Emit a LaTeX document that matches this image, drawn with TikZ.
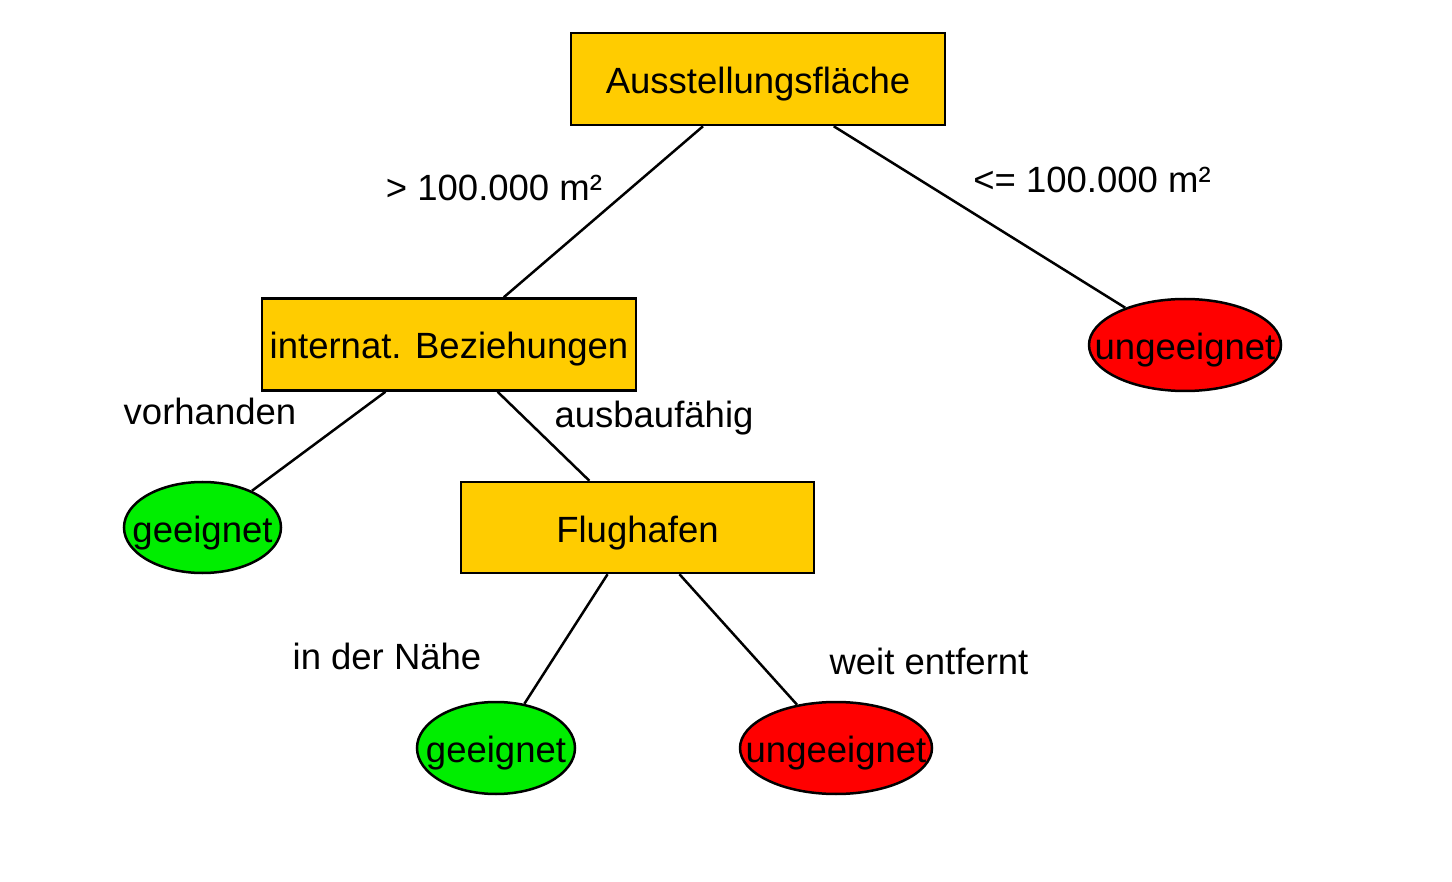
\documentclass[tikz,border=0pt]{standalone}
\usepackage{fontspec}
\setmainfont{Liberation Sans}
\usetikzlibrary{shapes.geometric}
\definecolor{boxyellow}{RGB}{255,204,0}
\definecolor{leafred}{RGB}{255,0,0}
\definecolor{leafgreen}{RGB}{0,238,0}
\tikzset{
  every node/.style={font=\fontsize{36.5}{44}\selectfont, inner sep=0pt},
  shaped/.style={draw=black, line width=2.5pt, text height=29pt, text depth=0pt},
  decision/.style={shaped, fill=boxyellow, rectangle, minimum width=374pt, minimum height=92pt},
  good/.style={shaped, fill=leafgreen, ellipse, minimum width=157pt, minimum height=91pt},
  bad/.style={shaped, fill=leafred, ellipse, minimum width=192pt, minimum height=92pt},
  edge/.style={draw=black, line width=2.5pt},
  elabel/.style={anchor=center}
}
\newcommand{\zw}[1]{\makebox[0pt]{#1}}
\begin{document}
\begin{tikzpicture}[x=1pt,y=-1pt]
\useasboundingbox (0,0) rectangle (1452,882);
\node[decision] (root) at (758,79) {Ausstellungsfläche};
\node[decision] (intl) at (449,344.5) {internat. Beziehungen};
\node[decision, minimum width=353pt, minimum height=91pt] (flug) at (637.5,527.5) {Flughafen};
\node[bad] (bad1) at (1185,345) {\zw{ungeeignet}};
\node[good] (good1) at (202.5,527.5) {\zw{geeignet}};
\node[good, minimum width=158pt, minimum height=92pt] (good2) at (496,748) {\zw{geeignet}};
\node[bad] (bad2) at (836,748) {\zw{ungeeignet}};
\draw[edge] (root) -- (intl);
\draw[edge] (root) -- (bad1);
\draw[edge] (intl) -- (good1);
\draw[edge] (intl) -- (flug);
\draw[edge] (flug) -- (good2);
\draw[edge] (flug) -- (bad2);
\node[elabel] (l1) at (494,188) {> 100.000 m²};
\node[elabel] (l2) at (1092,180) {<= 100.000 m²};
\node[elabel] (l3) at (210,411) {vorhanden};
\node[elabel] (l4) at (654,418) {ausbaufähig};
\node[elabel] (l5) at (387,656) {in der Nähe};
\node[elabel] (l6) at (929,661) {weit entfernt};
\end{tikzpicture}
\end{document}
